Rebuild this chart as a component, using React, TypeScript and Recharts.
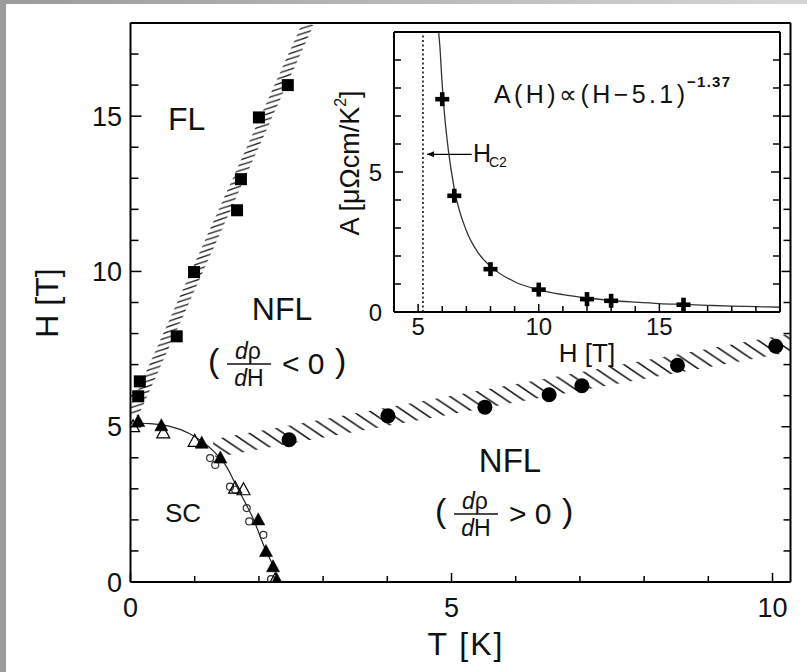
import React from "react";
import {
  CartesianGrid,
  ComposedChart,
  Line,
  ReferenceLine,
  Scatter,
  XAxis,
  YAxis,
} from "recharts";

const FONT = '"Liberation Sans", Arial, Helvetica, sans-serif';
const INK = "#111";

// ---------- main diagram: H [T] vs T [K] ----------
const tTicks = [0, 1, 2, 3, 4, 5, 6, 7, 8, 9, 10];
const tLabels = [0, 5, 10];
const hTicks = [0, 1, 2, 3, 4, 5, 6, 7, 8, 9, 10, 11, 12, 13, 14, 15, 16, 17, 18];
const hLabels = [0, 5, 10, 15];

// FL crossover (squares)
const flT = [0.12, 0.145, 0.72, 0.99, 1.66, 1.72, 2.0, 2.45];
const flH = [5.98, 6.46, 7.91, 9.98, 11.97, 12.97, 14.96, 16.0];

// d rho / dH sign change (filled circles)
const nflT = [2.47, 4.01, 5.52, 6.52, 7.03, 8.52, 10.05];
const nflH = [4.58, 5.35, 5.63, 6.03, 6.32, 6.98, 7.59];

// upper critical field
const hc2FilledT = [0.12, 0.48, 1.11, 1.4, 1.99, 2.11, 2.22, 2.28];
const hc2FilledH = [5.17, 5.03, 4.47, 3.99, 2.0, 0.98, 0.49, 0.06];
const hc2OpenT = [0.04, 0.51, 1.0, 1.63, 1.76, 2.25];
const hc2OpenH = [5.0, 4.8, 4.53, 3.02, 2.97, 0.06];
const hc2RingT = [1.24, 1.32, 1.55, 1.63, 1.81, 1.85, 2.07, 2.19];
const hc2RingH = [3.99, 3.77, 3.07, 2.97, 2.38, 1.95, 1.52, 0.09];

// guide line through Hc2(T)
const hc2LineT = [0, 0.3, 0.6, 0.9, 1.1, 1.3, 1.5, 1.66, 1.8, 1.92, 2.07, 2.17, 2.25, 2.31];
const hc2LineH = [5.12, 5.1, 5.02, 4.8, 4.55, 4.2, 3.7, 3.05, 2.5, 2.0, 1.2, 0.75, 0.4, 0.0];

// hatched crossover bands (end points)
const flBandT = [0.04, 2.77];
const flBandH = [5.4, 18];
const nflBandT = [1.3, 10.28];
const nflBandH = [4.3, 7.7];

// ---------- inset: A coefficient vs field ----------
const fieldTicks = [4, 5, 6, 7, 8, 9, 10, 11, 12, 13, 14, 15, 16, 17, 18, 19, 20];
const fieldLabels = [5, 10, 15];
const aTicks = [0, 1, 2, 3, 4, 5, 6, 7, 8, 9, 10];
const aLabels = [0, 5];

const crossH = [6, 6.5, 8, 10, 12, 13, 16];
const crossA = [7.6, 4.15, 1.53, 0.8, 0.46, 0.4, 0.26];

const fitH = [5.85, 5.9, 6.0, 6.1, 6.25, 6.5, 7, 7.5, 8, 9, 10, 11, 12, 13, 14, 15, 16, 17, 18, 19, 20];
const fitA = [10, 9.5, 8.1, 7.0, 5.8, 4.4, 2.9, 2.1, 1.63, 1.08, 0.79, 0.62, 0.5, 0.41, 0.35, 0.3, 0.27, 0.24, 0.21, 0.19, 0.17];

const hc2Field = 5.2;
const arrowFrom = { x: 7.22, y: 5.63 };
const arrowTo = { x: 5.37, y: 5.63 };

const th = (t: number[], h: number[]) => t.map((v, i) => ({ t: v, h: h[i] }));
const ha = (h: number[], a: number[]) => h.map((v, i) => ({ h: v, a: a[i] }));

type Side = "bottom" | "top" | "left" | "right";

// inward ticks, longer at multiples of 5, optional numeric label
function makeTick(
  side: Side,
  minor: number,
  major: number,
  labels: number[] = [],
  fontSize = 27,
  off = 0,
  along = 0
) {
  return (props: any) => {
    const x = Number(props.x);
    const y = Number(props.y);
    const v = Number(props.payload?.value);
    const len = Math.abs(v % 5) < 1e-9 ? major : minor;
    const dx = side === "left" ? len : side === "right" ? -len : 0;
    const dy = side === "bottom" ? -len : side === "top" ? len : 0;
    const show = labels.includes(v);
    return (
      <g>
        <line x1={x} y1={y} x2={x + dx} y2={y + dy} stroke="#000" strokeWidth={1.5} />
        {show && side === "bottom" && (
          <text x={x} y={y + off} textAnchor="middle" fontSize={fontSize} fontFamily={FONT} fill={INK}>
            {v}
          </text>
        )}
        {show && side === "left" && (
          <text x={x - off} y={y + along} textAnchor="end" fontSize={fontSize} fontFamily={FONT} fill={INK}>
            {v}
          </text>
        )}
      </g>
    );
  };
}

const axisLine = { stroke: "#000", strokeWidth: 2 };

const squareShape = (p: any) => <rect x={p.cx - 6} y={p.cy - 6} width={12} height={12} fill="#000" />;
const discShape = (p: any) => <circle cx={p.cx} cy={p.cy} r={7.5} fill="#000" />;
const ringShape = (p: any) => <circle cx={p.cx} cy={p.cy} r={3.5} fill="none" stroke="#333" strokeWidth={1.2} />;
const triShape = (filled: boolean) => (p: any) => (
  <polygon
    points={`${p.cx},${p.cy - 7} ${p.cx + 6.5},${p.cy + 5} ${p.cx - 6.5},${p.cy + 5}`}
    fill={filled ? "#000" : "none"}
    stroke="#000"
    strokeWidth={filled ? 0.6 : 1.2}
  />
);
const crossShape = (p: any) => (
  <g fill="#000">
    <rect x={p.cx - 7} y={p.cy - 2.3} width={14} height={4.6} />
    <rect x={p.cx - 2.3} y={p.cy - 7} width={4.6} height={14} />
  </g>
);

const arrowShape = (p: any) => {
  const { x1, y1, x2, y2 } = p;
  return (
    <g>
      <line x1={x1} y1={y1} x2={x2} y2={y2} stroke="#000" strokeWidth={1.3} />
      <polygon points={`${x2},${y2} ${x2 + 7},${y2 - 3} ${x2 + 7},${y2 + 3}`} fill="#000" />
    </g>
  );
};

// repeating tile of parallel slanted strokes: w = horizontal period, h = vertical period
function Hatch({ id, w, h, rising, width, color }: { id: string; w: number; h: number; rising: boolean; width: number; color: string }) {
  const seg = (dx: number, dy: number, k: number) =>
    rising ? (
      <line key={k} x1={dx} y1={h + dy} x2={w + dx} y2={dy} stroke={color} strokeWidth={width} />
    ) : (
      <line key={k} x1={dx} y1={dy} x2={w + dx} y2={h + dy} stroke={color} strokeWidth={width} />
    );
  const shifts = [
    [0, 0],
    [-w, 0],
    [w, 0],
    [0, -h],
    [0, h],
  ];
  return (
    <pattern id={id} patternUnits="userSpaceOnUse" width={w} height={h}>
      {shifts.map(([dx, dy], k) => seg(dx, dy, k))}
    </pattern>
  );
}

function MainChart() {
  return (
    <ComposedChart width={807} height={672} margin={{ top: 22, right: 15.5, bottom: 0, left: 0 }}>
      <XAxis
        type="number"
        dataKey="t"
        domain={[0, 10.28]}
        ticks={tTicks}
        interval={0}
        allowDataOverflow
        height={90}
        tickSize={0}
        tickMargin={0}
        tickLine={false}
        axisLine={axisLine}
        tick={makeTick("bottom", 6, 9, tLabels, 27, 35)}
      />
      <XAxis
        xAxisId="top"
        orientation="top"
        type="number"
        domain={[0, 10.28]}
        ticks={tTicks}
        interval={0}
        allowDataOverflow
        height={1}
        tickSize={0}
        tickMargin={0}
        tickLine={false}
        axisLine={axisLine}
        tick={makeTick("top", 6, 9)}
      />
      <YAxis
        type="number"
        dataKey="h"
        domain={[0, 18]}
        ticks={hTicks}
        interval={0}
        allowDataOverflow
        width={130.5}
        tickSize={0}
        tickMargin={0}
        tickLine={false}
        axisLine={axisLine}
        tick={makeTick("left", 8, 11, hLabels, 27, 8.5, 9.5)}
      />
      <YAxis
        yAxisId="right"
        orientation="right"
        type="number"
        domain={[0, 18]}
        ticks={hTicks}
        interval={0}
        allowDataOverflow
        width={1}
        tickSize={0}
        tickMargin={0}
        tickLine={false}
        axisLine={axisLine}
        tick={makeTick("right", 7, 9)}
      />

      <Line
        data={th(flBandT, flBandH)}
        dataKey="h"
        type="linear"
        stroke="url(#hatchFL)"
        strokeWidth={11}
        dot={false}
        activeDot={false}
        isAnimationActive={false}
      />
      <Line
        data={th(nflBandT, nflBandH)}
        dataKey="h"
        type="linear"
        stroke="url(#hatchNFL)"
        strokeWidth={18}
        dot={false}
        activeDot={false}
        isAnimationActive={false}
      />
      <Line
        data={th(hc2LineT, hc2LineH)}
        dataKey="h"
        type="monotone"
        stroke="#222"
        strokeWidth={1.2}
        dot={false}
        activeDot={false}
        isAnimationActive={false}
      />

      <Scatter data={th(hc2RingT, hc2RingH)} dataKey="h" shape={ringShape} isAnimationActive={false} />
      <Scatter data={th(hc2OpenT, hc2OpenH)} dataKey="h" shape={triShape(false)} isAnimationActive={false} />
      <Scatter data={th(hc2FilledT, hc2FilledH)} dataKey="h" shape={triShape(true)} isAnimationActive={false} />
      <Scatter data={th(flT, flH)} dataKey="h" shape={squareShape} isAnimationActive={false} />
      <Scatter data={th(nflT, nflH)} dataKey="h" shape={discShape} isAnimationActive={false} />
    </ComposedChart>
  );
}

function InsetChart() {
  return (
    <ComposedChart width={807} height={672} margin={{ top: 31, right: 26, bottom: 300, left: 334 }}>
      <CartesianGrid fill="#fff" horizontal={false} vertical={false} />
      <XAxis
        type="number"
        dataKey="h"
        domain={[4, 20]}
        ticks={fieldTicks}
        interval={0}
        allowDataOverflow
        height={60}
        tickSize={0}
        tickMargin={0}
        tickLine={false}
        axisLine={axisLine}
        tick={makeTick("bottom", 6, 8, fieldLabels, 24, 23)}
      />
      <XAxis
        xAxisId="top"
        orientation="top"
        type="number"
        domain={[4, 20]}
        ticks={fieldTicks}
        interval={0}
        allowDataOverflow
        height={1}
        tickSize={0}
        tickMargin={0}
        tickLine={false}
        axisLine={axisLine}
        tick={makeTick("top", 6, 8)}
      />
      <YAxis
        type="number"
        dataKey="a"
        domain={[0, 10]}
        ticks={aTicks}
        interval={0}
        allowDataOverflow
        width={60}
        tickSize={0}
        tickMargin={0}
        tickLine={false}
        axisLine={axisLine}
        tick={makeTick("left", 7, 9, aLabels, 24, 12, 8.5)}
      />
      <YAxis
        yAxisId="right"
        orientation="right"
        type="number"
        domain={[0, 10]}
        ticks={aTicks}
        interval={0}
        allowDataOverflow
        width={1}
        tickSize={0}
        tickMargin={0}
        tickLine={false}
        axisLine={axisLine}
        tick={makeTick("right", 7, 9)}
      />

      <ReferenceLine x={hc2Field} stroke="#000" strokeWidth={1.5} strokeDasharray="2 2.5" />
      <ReferenceLine segment={[arrowFrom, arrowTo]} shape={arrowShape} />

      <Line
        data={ha(fitH, fitA)}
        dataKey="a"
        type="monotone"
        stroke="#333"
        strokeWidth={1.3}
        dot={false}
        activeDot={false}
        isAnimationActive={false}
      />
      <Scatter data={ha(crossH, crossA)} dataKey="a" shape={crossShape} isAnimationActive={false} />
    </ComposedChart>
  );
}

function Ratio({ x, y, sign }: { x: number; y: number; sign: string }) {
  // x: left edge of the opening bracket, y: height of the fraction bar
  return (
    <g fontFamily={FONT} fill={INK}>
      <text x={x} y={y + 8} fontSize={34}>(</text>
      <text x={x + 40} y={y - 5} fontSize={23} textAnchor="middle">
        <tspan fontStyle="italic">d</tspan>ρ
      </text>
      <line x1={x + 19} x2={x + 63} y1={y} y2={y} stroke={INK} strokeWidth={1.6} />
      <text x={x + 41} y={y + 22} fontSize={23} textAnchor="middle">
        <tspan fontStyle="italic">d</tspan>H
      </text>
      <text x={x + 74} y={y + 10} fontSize={30}>{sign} 0</text>
      <text x={x + 127} y={y + 8} fontSize={34}>)</text>
    </g>
  );
}

function Annotations() {
  return (
    <svg
      width={807}
      height={672}
      style={{ position: "absolute", left: 0, top: 0, pointerEvents: "none" }}
      fontFamily={FONT}
      fill={INK}
    >
      {/* axis titles */}
      <text x={47} y={303} transform="rotate(-90 47 303)" textAnchor="middle" dominantBaseline="central" fontSize={32}>
        H [T]
      </text>
      <text x={466} y={655} textAnchor="middle" fontSize={32} letterSpacing={2}>
        T [K]
      </text>

      {/* regions */}
      <text x={168} y={130} fontSize={32}>FL</text>
      <text x={282} y={320} textAnchor="middle" fontSize={32}>NFL</text>
      <Ratio x={208} y={364} sign="<" />
      <text x={510} y={472} textAnchor="middle" fontSize={33}>NFL</text>
      <Ratio x={435} y={514} sign=">" />
      <text x={183} y={522} textAnchor="middle" fontSize={26}>SC</text>

      {/* inset titles */}
      <text x={350} y={163} transform="rotate(-90 350 163)" textAnchor="middle" dominantBaseline="central" fontSize={27}>
        A [μΩcm/K<tspan dy={-10} fontSize={16}>2</tspan>
        <tspan dy={10}>]</tspan>
      </text>
      <text x={587} y={362} textAnchor="middle" fontSize={26}>H [T]</text>
      <text x={494} y={103} fontSize={25} textLength={191} lengthAdjust="spacing">
        A(H)∝(H−5.1)
      </text>
      <text x={687} y={87} fontSize={15} fontWeight="bold" textLength={43} lengthAdjust="spacing">
        −1.37
      </text>
      <text x={473} y={162} fontSize={25}>H</text>
      <text x={489} y={167} fontSize={14}>C2</text>
    </svg>
  );
}

export default function App() {
  return (
    <div
      style={{
        position: "absolute",
        left: 0,
        top: 0,
        width: 807,
        height: 672,
        background: "#fff",
        overflow: "hidden",
        fontFamily: FONT,
      }}
    >
      <div style={{ position: "absolute", left: 0, top: 0, width: 807, height: 4, background: "linear-gradient(90deg, #9a9a9a, #d6d6d6)" }} />
      <div style={{ position: "absolute", left: 0, top: 0, width: 6, height: 672, background: "#9c9c9c" }} />
      <svg width={0} height={0} style={{ position: "absolute" }}>
        <defs>
          <Hatch id="hatchFL" w={16.2} h={5.3} rising width={1.4} color="#222" />
          <Hatch id="hatchNFL" w={17} h={11.5} rising={false} width={1.6} color="#1a1a1a" />
        </defs>
      </svg>
      <div style={{ position: "absolute", left: 0, top: 0 }}>
        <MainChart />
      </div>
      <div style={{ position: "absolute", left: 0, top: 0 }}>
        <InsetChart />
      </div>
      <Annotations />
    </div>
  );
}
